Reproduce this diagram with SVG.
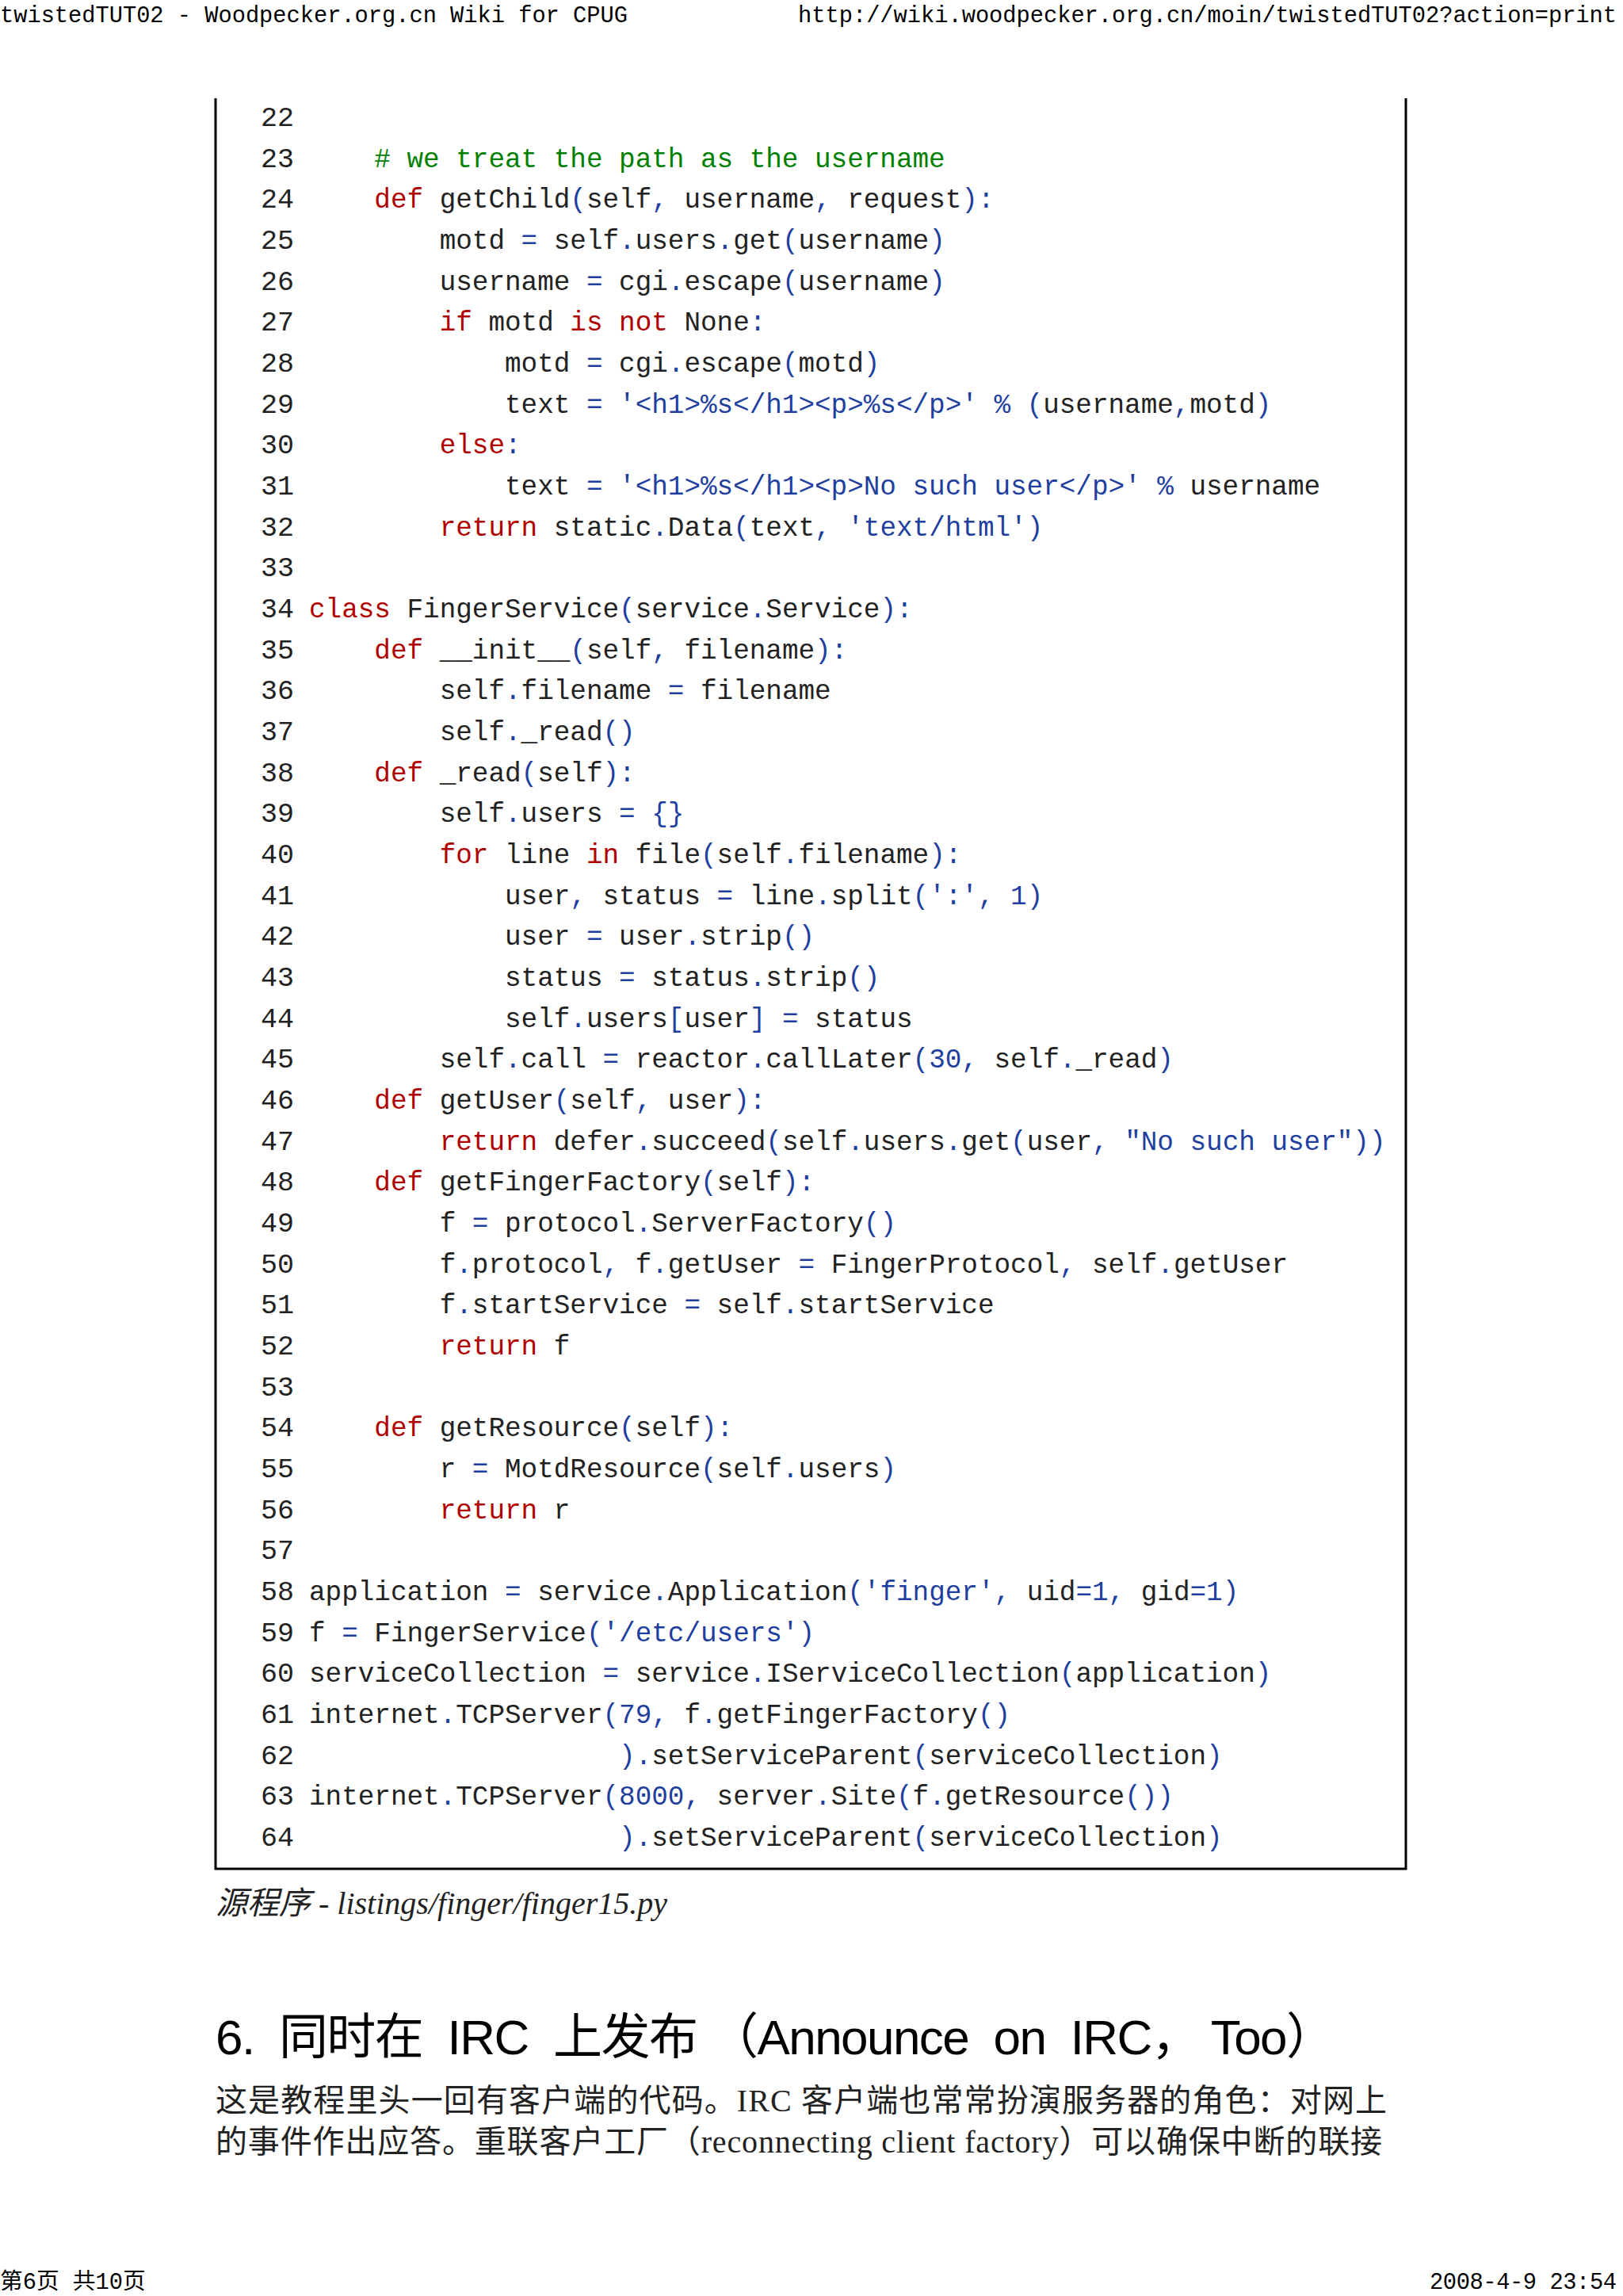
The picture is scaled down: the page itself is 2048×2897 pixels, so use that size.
<svg xmlns="http://www.w3.org/2000/svg" width="2048" height="2897" viewBox="0 0 2048 2897">
<style>
.h{font-family:"Liberation Mono","Noto Sans CJK SC",monospace;font-size:28.7px;fill:#000}
.code{font-family:"Liberation Mono",monospace;font-size:34.3px;fill:#222}
.code text{white-space:pre}
.n{font-family:"Liberation Mono",monospace;font-size:35px;fill:#222}
.k{fill:#b00000}.c{fill:#008000}.s{fill:#1f3f9f}
.cap{font-family:"Liberation Serif","Noto Sans CJK SC",serif;font-style:italic;font-size:40px;fill:#222}
.h1{font-family:"Liberation Sans","Noto Sans CJK SC",sans-serif;font-size:62px;fill:#000;white-space:pre}
.p{font-family:"Liberation Serif","Noto Sans CJK SC",serif;font-size:40px;fill:#222}
</style>
<rect width="2048" height="2897" fill="#fff"/>
<g id="header">
<text class="h" x="0" y="28">twistedTUT02 - Woodpecker.org.cn Wiki for CPUG</text>
<text class="h" x="2040" y="28" text-anchor="end">http://wiki.woodpecker.org.cn/moin/twistedTUT02?action=print</text>
</g>
<g id="box" stroke="#000" stroke-width="3" fill="none">
<path d="M272 124V2358H1774V124"/>
</g>
<g id="linenums" class="n">
<text x="329" y="159">22</text><text x="329" y="211">23</text><text x="329" y="262">24</text><text x="329" y="314">25</text><text x="329" y="366">26</text><text x="329" y="417">27</text><text x="329" y="469">28</text><text x="329" y="521">29</text><text x="329" y="572">30</text><text x="329" y="624">31</text><text x="329" y="676">32</text><text x="329" y="727">33</text><text x="329" y="779">34</text><text x="329" y="831">35</text><text x="329" y="882">36</text><text x="329" y="934">37</text><text x="329" y="986">38</text><text x="329" y="1037">39</text><text x="329" y="1089">40</text><text x="329" y="1141">41</text><text x="329" y="1192">42</text><text x="329" y="1244">43</text><text x="329" y="1296">44</text><text x="329" y="1347">45</text><text x="329" y="1399">46</text><text x="329" y="1451">47</text><text x="329" y="1502">48</text><text x="329" y="1554">49</text><text x="329" y="1606">50</text><text x="329" y="1657">51</text><text x="329" y="1709">52</text><text x="329" y="1761">53</text><text x="329" y="1812">54</text><text x="329" y="1864">55</text><text x="329" y="1916">56</text><text x="329" y="1967">57</text><text x="329" y="2019">58</text><text x="329" y="2071">59</text><text x="329" y="2122">60</text><text x="329" y="2174">61</text><text x="329" y="2226">62</text><text x="329" y="2277">63</text><text x="329" y="2329">64</text>
</g>
<g id="code" class="code">
<text x="390" y="211"><tspan class="c">    # we treat the path as the username</tspan></text>
<text x="390" y="262">    <tspan class="k">def</tspan> getChild<tspan class="s">(</tspan>self<tspan class="s">,</tspan> username<tspan class="s">,</tspan> request<tspan class="s">):</tspan></text>
<text x="390" y="314">        motd <tspan class="s">=</tspan> self<tspan class="s">.</tspan>users<tspan class="s">.</tspan>get<tspan class="s">(</tspan>username<tspan class="s">)</tspan></text>
<text x="390" y="366">        username <tspan class="s">=</tspan> cgi<tspan class="s">.</tspan>escape<tspan class="s">(</tspan>username<tspan class="s">)</tspan></text>
<text x="390" y="417">        <tspan class="k">if</tspan> motd <tspan class="k">is not</tspan> None<tspan class="s">:</tspan></text>
<text x="390" y="469">            motd <tspan class="s">=</tspan> cgi<tspan class="s">.</tspan>escape<tspan class="s">(</tspan>motd<tspan class="s">)</tspan></text>
<text x="390" y="521">            text <tspan class="s">= '&lt;h1&gt;%s&lt;/h1&gt;&lt;p&gt;%s&lt;/p&gt;' % (</tspan>username<tspan class="s">,</tspan>motd<tspan class="s">)</tspan></text>
<text x="390" y="572">        <tspan class="k">else</tspan><tspan class="s">:</tspan></text>
<text x="390" y="624">            text <tspan class="s">= '&lt;h1&gt;%s&lt;/h1&gt;&lt;p&gt;No such user&lt;/p&gt;' %</tspan> username</text>
<text x="390" y="676">        <tspan class="k">return</tspan> static<tspan class="s">.</tspan>Data<tspan class="s">(</tspan>text<tspan class="s">, 'text/html')</tspan></text>
<text x="390" y="779"><tspan class="k">class</tspan> FingerService<tspan class="s">(</tspan>service<tspan class="s">.</tspan>Service<tspan class="s">):</tspan></text>
<text x="390" y="831">    <tspan class="k">def</tspan> __init__<tspan class="s">(</tspan>self<tspan class="s">,</tspan> filename<tspan class="s">):</tspan></text>
<text x="390" y="882">        self<tspan class="s">.</tspan>filename <tspan class="s">=</tspan> filename</text>
<text x="390" y="934">        self<tspan class="s">.</tspan>_read<tspan class="s">()</tspan></text>
<text x="390" y="986">    <tspan class="k">def</tspan> _read<tspan class="s">(</tspan>self<tspan class="s">):</tspan></text>
<text x="390" y="1037">        self<tspan class="s">.</tspan>users <tspan class="s">= {}</tspan></text>
<text x="390" y="1089">        <tspan class="k">for</tspan> line <tspan class="k">in</tspan> file<tspan class="s">(</tspan>self<tspan class="s">.</tspan>filename<tspan class="s">):</tspan></text>
<text x="390" y="1141">            user<tspan class="s">,</tspan> status <tspan class="s">=</tspan> line<tspan class="s">.</tspan>split<tspan class="s">(':', 1)</tspan></text>
<text x="390" y="1192">            user <tspan class="s">=</tspan> user<tspan class="s">.</tspan>strip<tspan class="s">()</tspan></text>
<text x="390" y="1244">            status <tspan class="s">=</tspan> status<tspan class="s">.</tspan>strip<tspan class="s">()</tspan></text>
<text x="390" y="1296">            self<tspan class="s">.</tspan>users<tspan class="s">[</tspan>user<tspan class="s">] =</tspan> status</text>
<text x="390" y="1347">        self<tspan class="s">.</tspan>call <tspan class="s">=</tspan> reactor<tspan class="s">.</tspan>callLater<tspan class="s">(30,</tspan> self<tspan class="s">.</tspan>_read<tspan class="s">)</tspan></text>
<text x="390" y="1399">    <tspan class="k">def</tspan> getUser<tspan class="s">(</tspan>self<tspan class="s">,</tspan> user<tspan class="s">):</tspan></text>
<text x="390" y="1451">        <tspan class="k">return</tspan> defer<tspan class="s">.</tspan>succeed<tspan class="s">(</tspan>self<tspan class="s">.</tspan>users<tspan class="s">.</tspan>get<tspan class="s">(</tspan>user<tspan class="s">, "No such user"))</tspan></text>
<text x="390" y="1502">    <tspan class="k">def</tspan> getFingerFactory<tspan class="s">(</tspan>self<tspan class="s">):</tspan></text>
<text x="390" y="1554">        f <tspan class="s">=</tspan> protocol<tspan class="s">.</tspan>ServerFactory<tspan class="s">()</tspan></text>
<text x="390" y="1606">        f<tspan class="s">.</tspan>protocol<tspan class="s">,</tspan> f<tspan class="s">.</tspan>getUser <tspan class="s">=</tspan> FingerProtocol<tspan class="s">,</tspan> self<tspan class="s">.</tspan>getUser</text>
<text x="390" y="1657">        f<tspan class="s">.</tspan>startService <tspan class="s">=</tspan> self<tspan class="s">.</tspan>startService</text>
<text x="390" y="1709">        <tspan class="k">return</tspan> f</text>
<text x="390" y="1812">    <tspan class="k">def</tspan> getResource<tspan class="s">(</tspan>self<tspan class="s">):</tspan></text>
<text x="390" y="1864">        r <tspan class="s">=</tspan> MotdResource<tspan class="s">(</tspan>self<tspan class="s">.</tspan>users<tspan class="s">)</tspan></text>
<text x="390" y="1916">        <tspan class="k">return</tspan> r</text>
<text x="390" y="2019">application <tspan class="s">=</tspan> service<tspan class="s">.</tspan>Application<tspan class="s">('finger',</tspan> uid<tspan class="s">=1,</tspan> gid<tspan class="s">=1)</tspan></text>
<text x="390" y="2071">f <tspan class="s">=</tspan> FingerService<tspan class="s">('/etc/users')</tspan></text>
<text x="390" y="2122">serviceCollection <tspan class="s">=</tspan> service<tspan class="s">.</tspan>IServiceCollection<tspan class="s">(</tspan>application<tspan class="s">)</tspan></text>
<text x="390" y="2174">internet<tspan class="s">.</tspan>TCPServer<tspan class="s">(79,</tspan> f<tspan class="s">.</tspan>getFingerFactory<tspan class="s">()</tspan></text>
<text x="390" y="2226">                   <tspan class="s">).</tspan>setServiceParent<tspan class="s">(</tspan>serviceCollection<tspan class="s">)</tspan></text>
<text x="390" y="2277">internet<tspan class="s">.</tspan>TCPServer<tspan class="s">(8000,</tspan> server<tspan class="s">.</tspan>Site<tspan class="s">(</tspan>f<tspan class="s">.</tspan>getResource<tspan class="s">())</tspan></text>
<text x="390" y="2329">                   <tspan class="s">).</tspan>setServiceParent<tspan class="s">(</tspan>serviceCollection<tspan class="s">)</tspan></text>
</g>
<g id="caption"><text class="cap" x="272" y="2415">源程序 - listings/finger/finger15.py</text></g>
<g id="heading"><text class="h1" x="272" y="2592" textLength="1413" lengthAdjust="spacing">6.  同时在  IRC  上发布 （Announce  on  IRC， Too）</text></g>
<g id="para" class="p">
<text x="272" y="2664" textLength="1478">这是教程里头一回有客户端的代码。IRC 客户端也常常扮演服务器的角色：对网上</text>
<text x="272" y="2716" textLength="1472">的事件作出应答。重联客户工厂（reconnecting client factory）可以确保中断的联接</text>
</g>
<g id="footer">
<text class="h" x="0" y="2888" font-family="Liberation Serif,Noto Sans CJK SC,serif" font-size="31">第6页 共10页</text>
<text class="h" x="2040" y="2888" text-anchor="end" font-size="31" textLength="236">2008-4-9 23:54</text>
</g>
</svg>
